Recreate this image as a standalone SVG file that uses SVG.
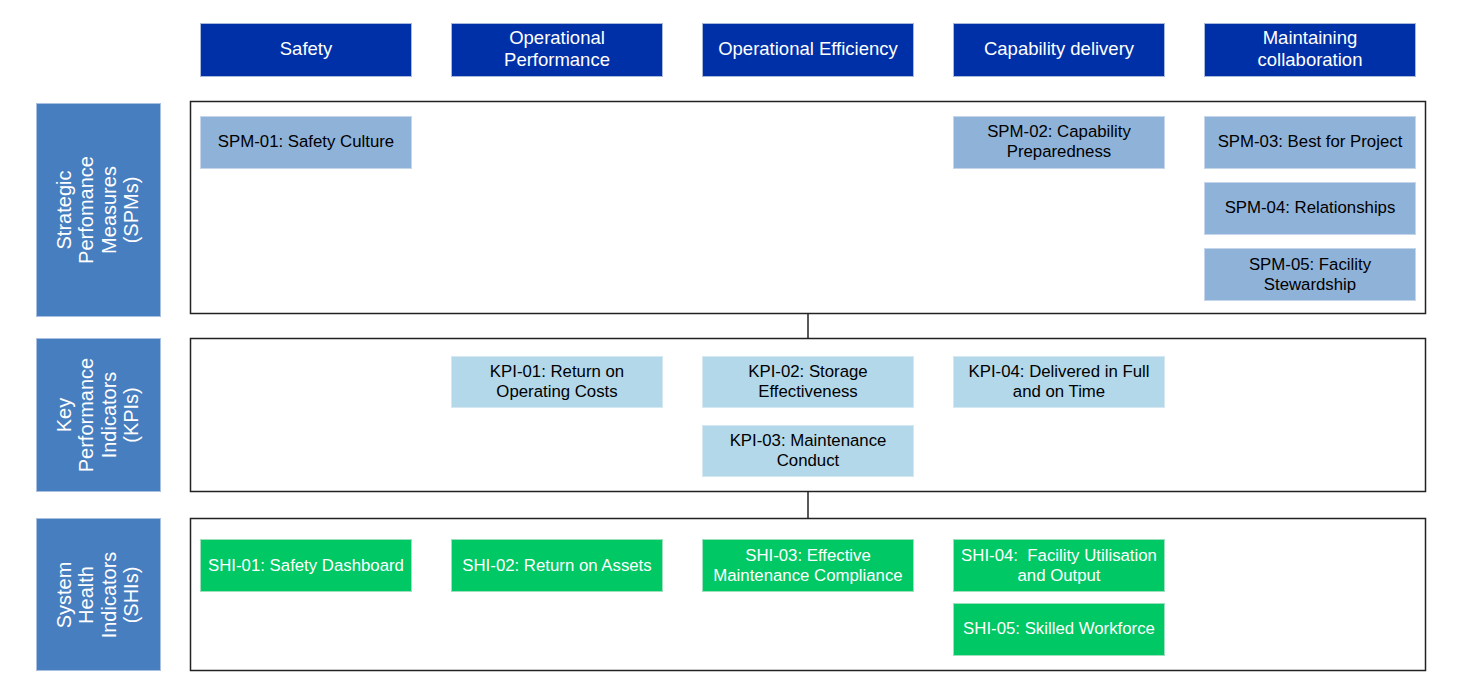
<svg xmlns="http://www.w3.org/2000/svg" width="1462" height="695" viewBox="0 0 1462 695">
<style>
text{font-family:"Liberation Sans",Arial,sans-serif;font-size:16.8px;text-anchor:middle;dominant-baseline:central}
.hdr rect{fill:#0030a8;stroke:#a9b9db;stroke-width:1}
.hdr text{fill:#fff;font-size:18.5px}
.side rect{fill:#477ec0;stroke:#a9c0e0;stroke-width:1}
.side text{fill:#fff;font-size:20px}
.box{fill:#fff;stroke:#222;stroke-width:1.5}
.spm rect{fill:#8fb2d9;stroke:#c5d5ea;stroke-width:1}
.kpi rect{fill:#b3d8ea;stroke:#d5e8f2;stroke-width:1}
.shi rect{fill:#00c864;stroke:#9de0be;stroke-width:1}
.spm text,.kpi text{fill:#000}
.shi text{fill:#fff}
.conn line{stroke:#222;stroke-width:1.5}
</style>
<g id="header-safety" class="hdr"><rect x="200.5" y="23.5" width="211" height="53"/><text x="306" y="48">Safety</text></g>
<g id="header-opperf" class="hdr"><rect x="451.5" y="23.5" width="211" height="53"/><text x="557" y="37">Operational</text><text x="557" y="59">Performance</text></g>
<g id="header-opeff" class="hdr"><rect x="702.5" y="23.5" width="211" height="53"/><text x="808" y="48">Operational Efficiency</text></g>
<g id="header-capdel" class="hdr"><rect x="953.5" y="23.5" width="211" height="53"/><text x="1059" y="48">Capability delivery</text></g>
<g id="header-collab" class="hdr"><rect x="1204.5" y="23.5" width="211" height="53"/><text x="1310" y="37">Maintaining</text><text x="1310" y="59">collaboration</text></g>

<g id="side-spm" class="side"><rect x="36.5" y="103.5" width="124" height="213"/>
<g transform="translate(97 210) rotate(-90)"><text x="0" y="-33.5">Strategic</text><text x="0" y="-11">Perfomance</text><text x="0" y="11.5">Measures</text><text x="0" y="34">(SPMs)</text></g></g>
<g id="side-kpi" class="side"><rect x="36.5" y="338.5" width="124" height="153"/>
<g transform="translate(97 415) rotate(-90)"><text x="0" y="-33.5">Key</text><text x="0" y="-11">Performance</text><text x="0" y="11.5">Indicators</text><text x="0" y="34">(KPIs)</text></g></g>
<g id="side-shi" class="side"><rect x="36.5" y="518.5" width="124" height="152"/>
<g transform="translate(97 595) rotate(-90)"><text x="0" y="-33.5">System</text><text x="0" y="-11">Health</text><text x="0" y="11.5">Indicators</text><text x="0" y="34">(SHIs)</text></g></g>

<g id="container-spm"><rect class="box" x="190.5" y="101.5" width="1235" height="212"/></g>
<g id="container-kpi"><rect class="box" x="190.5" y="338.5" width="1235" height="153"/></g>
<g id="container-shi"><rect class="box" x="190.5" y="518.5" width="1235" height="152"/></g>

<g id="connectors" class="conn">
<line x1="808" y1="313" x2="808" y2="338"/>
<line x1="808" y1="491" x2="808" y2="518"/>
</g>

<g id="spm-01" class="spm"><rect x="200.5" y="116.5" width="211" height="52"/><text x="306" y="141">SPM-01: Safety Culture</text></g>
<g id="spm-02" class="spm"><rect x="953.5" y="116.5" width="211" height="52"/><text x="1059" y="131">SPM-02: Capability</text><text x="1059" y="151">Preparedness</text></g>
<g id="spm-03" class="spm"><rect x="1204.5" y="116.5" width="211" height="52"/><text x="1310" y="141">SPM-03: Best for Project</text></g>
<g id="spm-04" class="spm"><rect x="1204.5" y="182.5" width="211" height="52"/><text x="1310" y="207">SPM-04: Relationships</text></g>
<g id="spm-05" class="spm"><rect x="1204.5" y="248.5" width="211" height="52"/><text x="1310" y="264">SPM-05: Facility</text><text x="1310" y="284">Stewardship</text></g>

<g id="kpi-01" class="kpi"><rect x="451.5" y="356.5" width="211" height="51"/><text x="557" y="371">KPI-01: Return on</text><text x="557" y="391">Operating Costs</text></g>
<g id="kpi-02" class="kpi"><rect x="702.5" y="356.5" width="211" height="51"/><text x="808" y="371">KPI-02: Storage</text><text x="808" y="391">Effectiveness</text></g>
<g id="kpi-03" class="kpi"><rect x="702.5" y="425.5" width="211" height="51"/><text x="808" y="440">KPI-03: Maintenance</text><text x="808" y="460">Conduct</text></g>
<g id="kpi-04" class="kpi"><rect x="953.5" y="356.5" width="211" height="51"/><text x="1059" y="371">KPI-04: Delivered in Full</text><text x="1059" y="391">and on Time</text></g>

<g id="shi-01" class="shi"><rect x="200.5" y="539.5" width="211" height="52"/><text x="306" y="565">SHI-01: Safety Dashboard</text></g>
<g id="shi-02" class="shi"><rect x="451.5" y="539.5" width="211" height="52"/><text x="557" y="565">SHI-02: Return on Assets</text></g>
<g id="shi-03" class="shi"><rect x="702.5" y="539.5" width="211" height="52"/><text x="808" y="555">SHI-03: Effective</text><text x="808" y="575">Maintenance Compliance</text></g>
<g id="shi-04" class="shi"><rect x="953.5" y="539.5" width="211" height="52"/><text x="1059" y="555" xml:space="preserve">SHI-04:  Facility Utilisation</text><text x="1059" y="575">and Output</text></g>
<g id="shi-05" class="shi"><rect x="953.5" y="603.5" width="211" height="52"/><text x="1059" y="628">SHI-05: Skilled Workforce</text></g>
</svg>
